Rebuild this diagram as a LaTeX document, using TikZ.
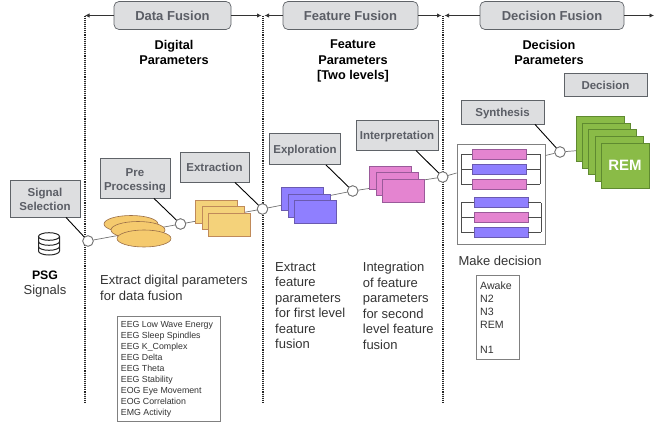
\documentclass[tikz,border=0pt]{standalone}
\usepackage{fontspec}
\setmainfont{Liberation Sans}
\definecolor{boxfill}{HTML}{DDDEE0}
\definecolor{boxedge}{HTML}{5F6368}
\definecolor{labeltxt}{HTML}{5B5E66}
\definecolor{ylw}{HTML}{F4D27A}
\definecolor{ylwe}{HTML}{C08A5A}
\definecolor{prp}{HTML}{8F7FFF}
\definecolor{prpe}{HTML}{6A5AB0}
\definecolor{pnk}{HTML}{E484D0}
\definecolor{pnke}{HTML}{9A5A9A}
\definecolor{grn}{HTML}{8ABB47}
\definecolor{grne}{HTML}{5F8A30}
\usetikzlibrary{arrows.meta,shapes.geometric}
\tikzset{
 fusion/.style={draw=boxedge,fill=boxfill,rounded corners=5pt,line width=.7pt,minimum width=#1,minimum height=28pt,inner sep=0pt,font=\fontsize{13}{15}\selectfont\bfseries,text=labeltxt},
 stage/.style={draw=boxedge,fill=boxfill,line width=.9pt,inner sep=0pt,align=center,font=\fontsize{11.5}{14}\selectfont\bfseries,text=labeltxt},
 oneline/.style={text height=8.2pt,text depth=0pt},
 hub/.style={circle,draw=gray!90!black,fill=white,line width=.8pt,minimum size=10.5pt,inner sep=0pt},
 sep/.style={densely dotted,line width=1.1pt,black!85},
 harrow/.style={-{Latex[length=4.5pt,width=4.5pt]},line width=.8pt,black!80},
 pointer/.style={line width=.9pt,black},
 link/.style={line width=.7pt,gray!90!black},
 heading/.style={align=center,font=\fontsize{12.7}{15.4}\selectfont\bfseries,black},
 body/.style={align=left,anchor=north west,inner sep=0pt,font=\fontsize{13}{15.5}\selectfont,text=black!80},
 listbox/.style={draw=gray,fill=white,line width=.9pt,anchor=north west,inner sep=0pt},
 ysheet/.style={draw=ylwe,fill=ylw,minimum width=42pt,minimum height=23pt,inner sep=0pt,line width=.7pt},
 bsheet/.style={draw=prpe,fill=prp,minimum width=42pt,minimum height=23pt,inner sep=0pt,line width=.7pt},
 psheet/.style={draw=pnke,fill=pnk,minimum width=42pt,minimum height=23pt,inner sep=0pt,line width=.7pt},
 gsheet/.style={draw=grne,fill=grn,minimum width=48pt,minimum height=45pt,inner sep=0pt,line width=.7pt},
 bbar/.style={draw=prpe,fill=prp,minimum width=54pt,minimum height=10pt,inner sep=0pt,line width=.7pt},
 pbar/.style={draw=pnke,fill=pnk,minimum width=54pt,minimum height=10pt,inner sep=0pt,line width=.7pt},
 oval/.style={ellipse,draw=ylwe!80!black,fill=ylw!90!orange,minimum width=54pt,minimum height=17pt,inner sep=0pt,line width=.6pt},
 bracket/.style={line width=.7pt,black!70},
}
\begin{document}
\begin{tikzpicture}[x=1pt,y=-1pt]
\useasboundingbox (0,0) rectangle (654,423);
% separators
\coordinate (sa) at (85,15.5); \coordinate (sae) at (85,402);
\coordinate (sb) at (263,15.5); \coordinate (sbe) at (263,402);
\coordinate (sc) at (443,15.5); \coordinate (sce) at (443,402);
\coordinate (send) at (654,15.5);
\draw[sep] (sa)--(sae); \draw[sep] (sb)--(sbe); \draw[sep] (sc)--(sce);
% top labels
\node[fusion=117pt] (df) at (172.5,15.5) {Data Fusion};
\node[fusion=135pt] (ff) at (350.5,15.5) {Feature Fusion};
\node[fusion=144pt] (dcf) at (552,15.5) {Decision Fusion};
\draw[harrow] (df.west)--(sa);
\draw[harrow] (df.east)--(261.5,15.5);
\draw[harrow] (ff.west)--(264.5,15.5);
\draw[harrow] (ff.east)--(441.5,15.5);
\draw[harrow] (dcf.west)--(444.5,15.5);
\draw[harrow] (dcf.east)--(send);
% headings
\node[heading] (h1) at (174,52.5) {Digital\\Parameters};
\node[heading] (h2) at (353,61) {Feature\\Parameters\\{[Two levels]}};
\node[heading] (h3) at (549,52.5) {Decision\\Parameters};
% hubs
\node[hub] (c1) at (88,241) {};
\node[hub] (c2) at (180.5,224) {};
\node[hub] (c3) at (262.5,209) {};
\node[hub] (c4) at (352.7,191) {};
\node[hub] (c5) at (442.7,177) {};
\node[hub] (c6) at (560,152) {};
% synthesis frame
\node[draw=gray,fill=white,line width=.9pt,minimum width=88pt,minimum height=100pt,inner sep=0pt] (frame) at (501,194) {};
% links
\draw[link] (c1)--(c2); \draw[link] (c2)--(c3); \draw[link] (c3)--(c4);
\draw[link] (c4)--(c5); \draw[link] (c5)--(frame.west |- 0,173);
\draw[link] (frame.east |- 0,155.5)--(c6); \draw[link] (c6)--(585,150);
% redraw hubs above links
\foreach \h in {c1,c2,c3,c4,c5,c6}{\node[hub] at (\h) {};}
% ellipses
\node[oval] (e1) at (131,224) {};
\node[oval] (e2) at (138,230) {};
\node[oval] (e3) at (144,238.5) {};
% yellow
\node[ysheet] (y1) at (216,211.5) {};
\node[ysheet] (y2) at (223,217.5) {};
\node[ysheet] (y3) at (229,224.5) {};
% purple
\node[bsheet] (b1) at (302.5,198.5) {};
\node[bsheet] (b2) at (309,205.5) {};
\node[bsheet] (b3) at (315,211.5) {};
% pink
\node[psheet] (p1) at (390.5,177.5) {};
\node[psheet] (p2) at (397,183.5) {};
\node[psheet] (p3) at (403.5,190.5) {};
% green
\node[gsheet] (g1) at (600,139) {};
\node[gsheet] (g2) at (606.3,145.5) {};
\node[gsheet] (g3) at (612.6,152) {};
\node[gsheet] (g4) at (619,158.5) {};
\node[gsheet,text=white,font=\fontsize{15}{17}\selectfont\bfseries] (g5) at (625,165.5) {REM};
% bars and brackets
\coordinate (ul) at (461.3,154); \coordinate (ull) at (461.3,184);
\coordinate (ur) at (540,154); \coordinate (urr) at (540,184);
\coordinate (ll) at (461.3,203); \coordinate (lll) at (461.3,232);
\coordinate (lr) at (541.3,203); \coordinate (lrr) at (541.3,232);
\draw[bracket] (ul)--(ull); \draw[bracket] (ur)--(urr);
\draw[bracket] (ll)--(lll); \draw[bracket] (lr)--(lrr);
\node[pbar] (s1) at (499.7,154.3) {};
\node[bbar] (s2) at (499.7,169.3) {};
\node[pbar] (s3) at (499.7,184.3) {};
\node[bbar] (s4) at (501,202.3) {};
\node[pbar] (s5) at (501,217.3) {};
\node[bbar] (s6) at (501,232.3) {};
\foreach \b in {s1,s2,s3}{
 \draw[bracket] (ul |- \b.west)--(\b.west);
 \draw[bracket] (\b.east)--(ur |- \b.east);}
\foreach \b in {s4,s5,s6}{
 \draw[bracket] (ll |- \b.west)--(\b.west);
 \draw[bracket] (\b.east)--(lr |- \b.east);}
% stage labels
\node[stage,minimum width=70pt,minimum height=37pt] (sig) at (45,198.5) {\rule{0pt}{10.5pt}Signal\\Selection};
\node[stage,minimum width=70pt,minimum height=40pt] (pre) at (135,178) {\rule{0pt}{12.5pt}Pre\\Processing};
\node[stage,oneline,minimum width=69pt,minimum height=30pt] (ext) at (214.5,167) {Extraction};
\node[stage,oneline,minimum width=71pt,minimum height=31pt] (exp) at (305,149) {Exploration};
\node[stage,oneline,minimum width=82pt,minimum height=30pt] (int) at (397,135) {Interpretation};
\node[stage,oneline,minimum width=83pt,minimum height=24pt] (syn) at (502.5,112) {Synthesis};
\node[stage,oneline,minimum width=83pt,minimum height=23.5pt] (dec) at (605.5,85) {Decision};
\draw[pointer] (sig.south -| 66,0)--(c1);
\draw[pointer] (pre.south -| 154,0)--(c2);
\draw[pointer] (ext.south -| 235,0)--(c3);
\draw[pointer] (exp.south -| 326,0)--(c4);
\draw[pointer] (int.south -| 416,0)--(c5);
\draw[pointer] (syn.south -| 535,0)--(c6);
% database icon
\coordinate (db) at (49,236.5);
\draw[line width=1pt,black!85,fill=white] (38.5,236.5) -- (38.5,251) arc[start angle=180,end angle=360,x radius=10.5,y radius=-4] -- (59.5,236.5);
\draw[line width=1pt,black!85] (db) ellipse[x radius=10.5,y radius=3.8];
\draw[line width=1pt,black!85] (38.5,241.5) arc[start angle=180,end angle=360,x radius=10.5,y radius=-3.8];
\draw[line width=1pt,black!85] (38.5,246.5) arc[start angle=180,end angle=360,x radius=10.5,y radius=-3.8];
\node[align=center,inner sep=0pt,font=\fontsize{13}{15.7}\selectfont,text=black!80] (psg) at (45,284) {{\fontsize{12.3}{15.7}\selectfont\textbf{\color{black}PSG}}\\Signals};
% body text
\node[body] (t1) at (100,275) {Extract digital parameters\\for data fusion};
\node[body] (t2) at (275,262) {Extract\\feature\\parameters\\for first level\\feature\\fusion};
\node[body] (t3) at (362.7,262) {Integration\\of feature\\parameters\\for second\\level feature\\fusion};
\node[body] (t4) at (458.3,255.5) {Make decision};
% lists
\node[listbox,minimum width=103pt,minimum height=105.5pt] (l1) at (116.7,315.7) {};
\node[anchor=north west,inner sep=0pt,align=left,font=\fontsize{8.8}{11}\selectfont,text=black!80] (l1t) at (120.7,321.5) {EEG Low Wave Energy\\EEG Sleep Spindles\\EEG K\_Complex\\EEG Delta\\EEG Theta\\EEG Stability\\EOG Eye Movement\\EOG Correlation\\EMG Activity};
\node[listbox,minimum width=43pt,minimum height=84pt] (l2) at (476,275) {};
\node[anchor=north west,inner sep=0pt,align=left,font=\fontsize{10.6}{12.8}\selectfont,text=black!80] (l2t) at (480,282) {Awake\\N2\\N3\\REM\\[12.8pt]N1};
\end{tikzpicture}
\end{document}
